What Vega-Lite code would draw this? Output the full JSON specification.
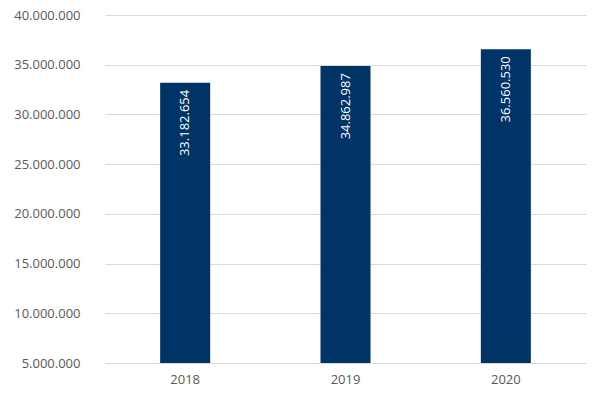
{
  "$schema": "https://vega.github.io/schema/vega-lite/v6.json",
  "width": 481,
  "height": 348,
  "autosize": {"type": "none"},
  "padding": {"left": 105, "top": 15, "right": 14, "bottom": 36},
  "background": "white",
  "config": {
    "locale": {"number": {"decimal": ",", "thousands": ".", "grouping": [3], "currency": ["", " €"]}},
    "view": {"stroke": null},
    "font": "Open Sans"
  },
  "data": {
    "values": [
      {"year": "2018", "value": 33182654},
      {"year": "2019", "value": 34862987},
      {"year": "2020", "value": 36560530}
    ]
  },
  "encoding": {
    "x": {
      "field": "year", "type": "nominal",
      "scale": {"paddingInner": 0.688, "paddingOuter": 0.344},
      "axis": {"title": null, "labelAngle": 0, "domain": false, "ticks": false, "labelPadding": 10, "labelColor": "#595959", "labelFontSize": 13, "labelFont": "Open Sans"}
    }
  },
  "layer": [
    {
      "mark": {"type": "bar", "color": "#003366"},
      "encoding": {
        "y": {
          "field": "value", "type": "quantitative",
          "scale": {"domain": [5000000, 40000000], "zero": false, "nice": false},
          "axis": {"title": null, "format": ",d", "values": [5000000, 10000000, 15000000, 20000000, 25000000, 30000000, 35000000, 40000000], "domain": false, "ticks": false, "labelPadding": 25, "labelColor": "#595959", "labelFontSize": 13, "gridColor": "#d9d9d9", "gridWidth": 1}
        },
        "y2": {"datum": 5000000}
      }
    },
    {
      "mark": {"type": "text", "angle": -90, "align": "right", "baseline": "middle", "dx": -7, "color": "white", "fontSize": 13},
      "encoding": {
        "y": {"field": "value", "type": "quantitative"},
        "text": {"field": "value", "type": "quantitative", "format": ",d"}
      }
    }
  ]
}
